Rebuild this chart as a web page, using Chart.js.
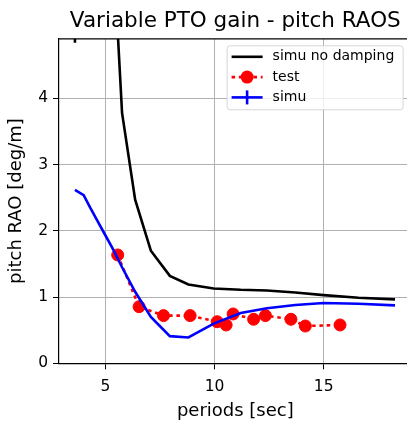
<!DOCTYPE html>
<html>
<head>
<meta charset="utf-8">
<script src="https://cdn.jsdelivr.net/npm/chart.js@4"></script>
<style>
  html, body { margin: 0; padding: 0; background: #fff; }
  #wrap { width: 407px; height: 423px; overflow: hidden; }
</style>
</head>
<body>
<div id="wrap"><canvas id="raoChart" width="420" height="423"></canvas></div>
<script>
// --- data ---
const periodsSimu = [3.6, 4.0, 4.3, 4.6, 4.95, 5.35, 5.76, 6.36, 7.08, 7.95, 8.8, 9.96, 11.2, 12.4, 13.7, 15.0, 16.6, 18.27];
const raoNoDamping = [4.84, 26, 34, 22, 11.5, 6.3, 3.78, 2.47, 1.70, 1.32, 1.19, 1.13, 1.11, 1.10, 1.07, 1.03, 0.99, 0.965];
const raoSimu = [2.62, 2.54, 2.35, 2.17, 1.96, 1.72, 1.45, 1.08, 0.70, 0.41, 0.39, 0.60, 0.76, 0.83, 0.88, 0.91, 0.90, 0.875];
const periodsTest = [5.56, 6.54, 7.66, 8.88, 10.12, 10.53, 10.85, 11.79, 12.33, 13.5, 14.16, 15.75];
const raoTest = [1.636, 0.855, 0.72, 0.72, 0.628, 0.579, 0.745, 0.665, 0.72, 0.665, 0.563, 0.579];
const xTicks = [5, 10, 15];
const yTicks = [0, 1, 2, 3, 4];

const FONT = 'DejaVu Sans';
const toPoints = (xs, ys) => xs.map((x, i) => ({x: x, y: ys[i]}));

// legend drawn inside the axes, top right, like matplotlib's
const boxLegend = {
    id: 'boxLegend',
    afterDraw(chart) {
        const ctx = chart.ctx;
        const area = chart.chartArea;
        const w = 176, h = 64;
        const x0 = area.right - 9 - w;
        const y0 = area.top + 6.5;
        ctx.save();
        ctx.beginPath();
        ctx.roundRect(x0 + 0.5, y0 + 0.5, w, h, 3);
        ctx.fillStyle = 'rgba(255,255,255,0.8)';
        ctx.fill();
        ctx.strokeStyle = '#d6d6d6';
        ctx.lineWidth = 1;
        ctx.stroke();

        ctx.font = '14px "' + FONT + '"';
        ctx.textBaseline = 'middle';
        ctx.textAlign = 'left';
        const hx0 = x0 + 5, hx1 = x0 + 36, hxm = (hx0 + hx1) / 2;
        chart.data.datasets.forEach((ds, i) => {
            const y = y0 + 11.5 + i * 20.3;
            ctx.strokeStyle = ds.borderColor;
            ctx.lineWidth = ds.borderWidth;
            ctx.setLineDash(ds.borderDash || []);
            ctx.beginPath();
            ctx.moveTo(hx0, y);
            ctx.lineTo(hx1, y);
            ctx.stroke();
            ctx.setLineDash([]);
            if (ds.legendMarker === 'circle') {
                ctx.fillStyle = ds.borderColor;
                ctx.beginPath();
                ctx.arc(hxm, y, 6.5, 0, Math.PI * 2);
                ctx.fill();
            } else if (ds.legendMarker === 'bar') {
                ctx.beginPath();
                ctx.moveTo(hxm, y - 7);
                ctx.lineTo(hxm, y + 7);
                ctx.stroke();
            }
            ctx.fillStyle = '#000';
            ctx.fillText(ds.label, x0 + 46, y);
        });
        ctx.restore();
    }
};

// top spine
const topSpine = {
    id: 'topSpine',
    afterDatasetsDraw(chart) {
        const ctx = chart.ctx;
        const a = chart.chartArea;
        ctx.save();
        ctx.strokeStyle = '#000';
        ctx.lineWidth = 1.2;
        ctx.beginPath();
        ctx.moveTo(a.left, a.top);
        ctx.lineTo(a.right, a.top);
        ctx.stroke();
        ctx.restore();
    }
};

const ctx = document.getElementById('raoChart').getContext('2d');
new Chart(ctx, {
    type: 'line',
    data: {
        datasets: [
            {
                label: 'simu no damping',
                data: toPoints(periodsSimu, raoNoDamping),
                borderColor: '#000000',
                borderWidth: 2.6,
                pointRadius: 0,
                order: 3
            },
            {
                label: 'test',
                data: toPoints(periodsTest, raoTest),
                borderColor: '#ff0000',
                backgroundColor: '#ff0000',
                borderWidth: 2.6,
                borderDash: [3.5, 3.8],
                pointRadius: 6,
                pointBorderWidth: 1,
                pointBackgroundColor: '#ff0000',
                legendMarker: 'circle',
                order: 2
            },
            {
                label: 'simu',
                data: toPoints(periodsSimu, raoSimu),
                borderColor: '#0000ff',
                borderWidth: 2.6,
                pointRadius: 0,
                legendMarker: 'bar',
                order: 1
            }
        ]
    },
    options: {
        responsive: false,
        animation: false,
        layout: { padding: { left: 0, right: 8.4, top: 0, bottom: 0 } },
        plugins: {
            legend: { display: false },
            tooltip: { enabled: false },
            title: {
                display: true,
                fullSize: false,
                text: 'Variable PTO gain - pitch RAOS',
                color: '#000',
                font: { family: FONT, size: 21.5, weight: 'normal', lineHeight: 1.2 },
                padding: { top: 9, bottom: 4 }
            }
        },
        scales: {
            x: {
                type: 'linear',
                min: 2.87,
                max: 19.03,
                afterBuildTicks: (axis) => { axis.ticks = xTicks.map(v => ({value: v})); },
                afterFit: (axis) => { axis.height = 59.7; },
                grid: { color: '#b0b0b0', lineWidth: 1, tickColor: '#000', tickLength: 6 },
                border: { color: '#000', width: 1.2 },
                ticks: { color: '#000', padding: 8, maxRotation: 0, font: { family: FONT, size: 15.5 } },
                title: {
                    display: true,
                    text: 'periods [sec]',
                    color: '#000',
                    font: { family: FONT, size: 18, lineHeight: 1.2 },
                    padding: { top: 0, bottom: 0.5 }
                }
            },
            y: {
                type: 'linear',
                min: 0,
                max: 4.9,
                afterBuildTicks: (axis) => { axis.ticks = yTicks.map(v => ({value: v})); },
                afterFit: (axis) => { axis.width = 59; },
                grid: { color: '#b0b0b0', lineWidth: 1, tickColor: '#000', tickLength: 6 },
                border: { color: '#000', width: 1.2 },
                ticks: { color: '#000', padding: 5, font: { family: FONT, size: 15.5 } },
                title: {
                    display: true,
                    text: 'pitch RAO [deg/m]',
                    color: '#000',
                    font: { family: FONT, size: 18, lineHeight: 1.2 },
                    padding: { top: 6, bottom: 0 }
                }
            }
        }
    },
    plugins: [topSpine, boxLegend]
});
</script>
</body>
</html>
